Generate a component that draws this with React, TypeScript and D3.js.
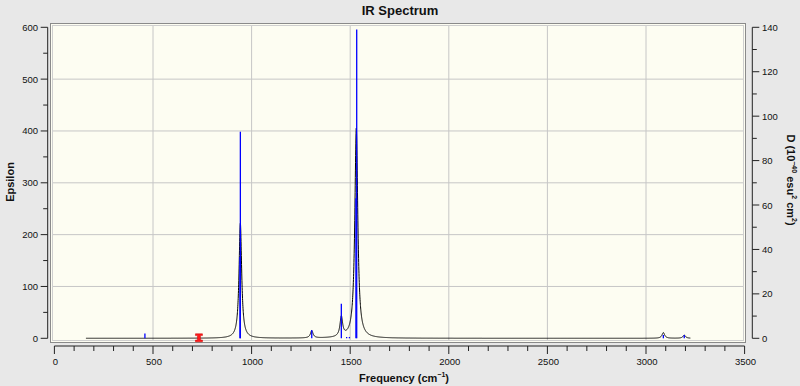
import React from 'react';
import * as d3 from 'd3';

const chartTitle = 'IR Spectrum';
const xTickValues = [0, 500, 1000, 1500, 2000, 2500, 3000, 3500];
const epsTickValues = [0, 100, 200, 300, 400, 500, 600];
const dTickValues = [0, 20, 40, 60, 80, 100, 120, 140];

// Broadened spectrum peaks (epsilon, left axis)
const peakFreq = [943, 1305, 1455, 1531, 3088, 3194];
const peakEps = [222, 14, 38, 405, 11, 6];
const peakHwhm = [8, 8, 8, 9, 8, 8];
const curveRange = [160, 3225];

// Stick spectrum (dipole strength D, right axis)
const stickFreq = [459, 941, 943, 1305, 1455, 1482, 1496, 1529, 1533, 3088, 3194];
const stickD = [2.2, 36.6, 93, 3.7, 15.5, 0.6, 0.6, 63, 139, 1.5, 1.5];

const markerFreq = 733;

const W = 800;
const H = 386;
const FONT = 'Liberation Sans, Arial, sans-serif';

export default function App() {
  const x = d3.scaleLinear().domain([0, 3500]).range([54.4, 744.6]);
  const yL = d3.scaleLinear().domain([0, 600]).range([338.3, 27.3]);
  const yR = d3.scaleLinear().domain([0, 140]).range([338.3, 27.3]);

  const pts: [number, number][] = [];
  for (let f = curveRange[0]; f <= curveRange[1]; f += 0.5) {
    let e = 0;
    for (let i = 0; i < peakFreq.length; i++) {
      const d = (f - peakFreq[i]) / peakHwhm[i];
      e += peakEps[i] / (1 + d * d);
    }
    pts.push([f, e]);
  }
  const line = d3
    .line<[number, number]>()
    .x((d) => x(d[0]))
    .y((d) => yL(d[1]));

  const xMinor = d3.range(0, 3501, 100);
  const epsMinor = d3.range(0, 601, 50);
  const dMinor = d3.range(0, 141, 10);

  const frame = { x0: 50, x1: 746, y0: 23, y1: 343 };
  const axisY = 346;
  const leftAxisX = 47.7;
  const rightAxisX = 752.3;

  const mx = x(markerFreq);
  const my = yL(0) - 0.5;

  return (
    <svg
      width={W}
      height={H}
      style={{ position: 'absolute', left: 0, top: 0, display: 'block' }}
      fontFamily={FONT}
    >
      <rect x={0} y={0} width={W} height={H} fill="#e8e8e8" />
      <text x={400} y={10.5} textAnchor="middle" dominantBaseline="central" fontSize={13} fontWeight="bold" fill="#111">
        {chartTitle}
      </text>

      {/* plot frame */}
      <rect x={frame.x0 + 0.5} y={frame.y0 + 0.5} width={frame.x1 - frame.x0 - 1} height={frame.y1 - frame.y0 - 1} fill="#fdfdf2" stroke="#8a8a8a" />
      <rect x={frame.x0 + 2.5} y={frame.y0 + 2.5} width={frame.x1 - frame.x0 - 5} height={frame.y1 - frame.y0 - 5} fill="none" stroke="#cfcfcf" />

      {/* grid */}
      {xTickValues.filter((v) => v > 0 && v < 3500).map((v) => (
        <line key={'gx' + v} x1={x(v)} x2={x(v)} y1={frame.y0 + 3} y2={frame.y1 - 3} stroke="#c6c6c6" />
      ))}
      {epsTickValues.filter((v) => v > 0 && v < 600).map((v) => (
        <line key={'gy' + v} x1={frame.x0 + 3} x2={frame.x1 - 3} y1={yL(v)} y2={yL(v)} stroke="#c6c6c6" />
      ))}

      {/* spectrum */}
      <path d={line(pts) || ''} fill="none" stroke="#000" strokeWidth={1} />
      {stickFreq.map((f, i) => (
        <line key={'s' + i} x1={x(f)} x2={x(f)} y1={yR(0)} y2={yR(stickD[i])} stroke="#0000ff" strokeWidth={1.3} />
      ))}

      {/* marker */}
      <path
        d={`M${mx - 3.5},${my - 4} h7 v1.8 h-2 v4.4 h2 v1.8 h-7 v-1.8 h2 v-4.4 h-2 z`}
        fill="#ff1a1a"
        stroke="#cc0000"
        strokeWidth={0.5}
      />

      {/* left axis */}
      <line x1={leftAxisX} x2={leftAxisX} y1={yL(600)} y2={yL(0)} stroke="#222" />
      {epsMinor.map((v) => (
        <line key={'lt' + v} x1={leftAxisX} x2={leftAxisX - (v % 100 === 0 ? 7 : 4.5)} y1={yL(v)} y2={yL(v)} stroke="#222" />
      ))}
      {epsTickValues.map((v) => (
        <text key={'ll' + v} x={38} y={yL(v)} textAnchor="end" dominantBaseline="central" fontSize={9.5} fill="#111">
          {v}
        </text>
      ))}
      <text transform={`translate(9.5,182) rotate(-90)`} textAnchor="middle" dominantBaseline="central" fontSize={11} fontWeight="bold" fill="#111">
        Epsilon
      </text>

      {/* right axis */}
      <line x1={rightAxisX} x2={rightAxisX} y1={yR(140)} y2={yR(0)} stroke="#222" />
      {dMinor.map((v) => (
        <line key={'rt' + v} x1={rightAxisX} x2={rightAxisX + (v % 20 === 0 ? 7 : 4.5)} y1={yR(v)} y2={yR(v)} stroke="#222" />
      ))}
      {dTickValues.map((v) => (
        <text key={'rl' + v} x={762} y={yR(v)} textAnchor="start" dominantBaseline="central" fontSize={9.5} fill="#111">
          {v}
        </text>
      ))}
      <text transform={`translate(790.5,180) rotate(90)`} textAnchor="middle" dominantBaseline="central" fontSize={11} fontWeight="bold" fill="#111">
        D (10<tspan dy={-4} fontSize={7}>−40</tspan>
        <tspan dy={4}> esu</tspan>
        <tspan dy={-4} fontSize={7}>2</tspan>
        <tspan dy={4}> cm</tspan>
        <tspan dy={-4} fontSize={7}>2</tspan>
        <tspan dy={4}>)</tspan>
      </text>

      {/* bottom axis */}
      <line x1={x(0)} x2={x(3500)} y1={axisY} y2={axisY} stroke="#222" />
      {xMinor.map((v) => (
        <line key={'bt' + v} x1={x(v)} x2={x(v)} y1={axisY} y2={axisY + (v % 500 === 0 ? 8 : 5)} stroke="#222" />
      ))}
      {xTickValues.map((v) => (
        <text key={'bl' + v} x={x(v) + 1} y={361} textAnchor="middle" dominantBaseline="central" fontSize={9.5} fill="#111">
          {v}
        </text>
      ))}
      <text x={404} y={378} textAnchor="middle" dominantBaseline="central" fontSize={11} fontWeight="bold" fill="#111">
        Frequency (cm<tspan dy={-4} fontSize={7}>−1</tspan>
        <tspan dy={4}>)</tspan>
      </text>
    </svg>
  );
}
